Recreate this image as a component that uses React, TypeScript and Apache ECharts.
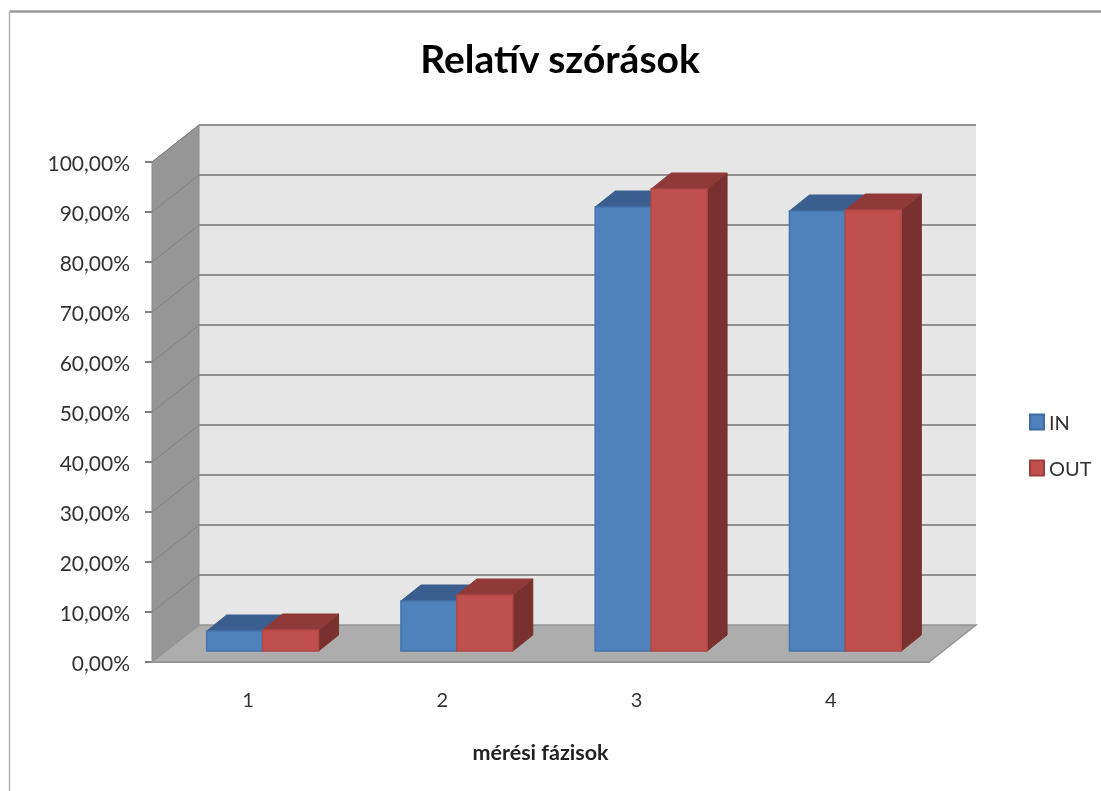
import React, { useEffect, useRef } from "react";
import * as echarts from "echarts";

const categories = ["1", "2", "3", "4"];
const inValues = [4, 10, 88.8, 88];
const outValues = [4.2, 11.2, 92.4, 88.2];
const yTicks = [0, 10, 20, 30, 40, 50, 60, 70, 80, 90, 100];

const DEPTH_X = 47;
const DEPTH_Y = -37;
const BAR_DX = 20;
const BAR_DY = -16;
const BAR_OFFSET_X = 13.5;
const BAR_OFFSET_Y = -11;
const FONT = "Lato, 'Open Sans', sans-serif";

const renderWalls = (params: any) => {
  const c = params.coordSys;
  const l = c.x, r = c.x + c.width, t = c.y, b = c.y + c.height;
  return {
    type: "group",
    children: [
      {
        type: "polygon",
        shape: { points: [[l + DEPTH_X, t + DEPTH_Y], [r + DEPTH_X, t + DEPTH_Y], [r + DEPTH_X, b + DEPTH_Y], [l + DEPTH_X, b + DEPTH_Y]] },
        style: { fill: "#E6E6E6" },
      },
      {
        type: "polygon",
        shape: { points: [[l, t], [l + DEPTH_X, t + DEPTH_Y], [l + DEPTH_X, b + DEPTH_Y], [l, b]] },
        style: { fill: "#969696", stroke: "#8A8A8A", lineWidth: 1 },
      },
      {
        type: "polygon",
        shape: { points: [[l, b], [l + DEPTH_X, b + DEPTH_Y], [r + DEPTH_X, b + DEPTH_Y], [r, b]] },
        style: { fill: "#ADADAD", stroke: "#949494", lineWidth: 1.5 },
      },
    ],
  };
};

const renderGridLine = (params: any, api: any) => {
  const c = params.coordSys;
  const v = api.value(1);
  const y = api.coord([0, v])[1];
  const l = c.x, r = c.x + c.width;
  if (v === 0) return { type: "group", children: [] };
  return {
    type: "group",
    children: [
      {
        type: "line",
        shape: { x1: l, y1: y, x2: l + DEPTH_X, y2: y + DEPTH_Y },
        style: { stroke: "#808080", lineWidth: 1 },
      },
      {
        type: "line",
        shape: { x1: l + DEPTH_X, y1: y + DEPTH_Y, x2: r + DEPTH_X, y2: y + DEPTH_Y },
        style: { stroke: "#8F8F8F", lineWidth: 2 },
      },
    ],
  };
};

const makeBar = (side: -1 | 0, front: string, edge: string, top: string, flank: string) =>
  (_params: any, api: any) => {
    const base = api.coord([api.value(0), 0]);
    const peak = api.coord([api.value(0), api.value(1)]);
    const w = api.size([1, 0])[0] * 0.288;
    const x0 = base[0] + BAR_OFFSET_X + side * w;
    const x1 = x0 + w;
    const y0 = base[1] + BAR_OFFSET_Y;
    const y1 = peak[1] + BAR_OFFSET_Y;
    return {
      type: "group",
      children: [
        {
          type: "polygon",
          shape: { points: [[x1, y0], [x1 + BAR_DX, y0 + BAR_DY], [x1 + BAR_DX, y1 + BAR_DY], [x1, y1]] },
          style: { fill: flank, stroke: flank, lineWidth: 1 },
        },
        {
          type: "polygon",
          shape: { points: [[x0, y1], [x1, y1], [x1 + BAR_DX, y1 + BAR_DY], [x0 + BAR_DX, y1 + BAR_DY]] },
          style: { fill: top, stroke: top, lineWidth: 1 },
        },
        {
          type: "rect",
          shape: { x: x0, y: y1, width: w, height: y0 - y1 },
          style: { fill: front, stroke: edge, lineWidth: 1.5 },
        },
      ],
    };
  };

export default function App() {
  const ref = useRef<HTMLDivElement>(null);
  useEffect(() => {
    const chart = echarts.init(ref.current!, undefined, { renderer: "svg" });
    chart.setOption({
      animation: false,
      backgroundColor: "#FFFFFF",
      textStyle: { fontFamily: FONT },
      title: {
        text: "Relatív szórások",
        left: 555,
        top: 33,
        textAlign: "center",
        textStyle: { fontFamily: FONT, fontSize: 39, fontWeight: "bold", color: "#000000" },
      },
      legend: {
        orient: "vertical",
        left: 1029,
        top: 412,
        padding: 0,
        itemWidth: 14,
        itemHeight: 15,
        itemGap: 26,
        icon: "rect",
        data: ["IN", "OUT"],
        textStyle: { fontFamily: FONT, fontSize: 20, color: "#333333" },
      },
      grid: { left: 152, right: 172, top: 162, bottom: 129 },
      xAxis: {
        type: "category",
        data: categories,
        name: "mérési fázisok",
        nameLocation: "middle",
        nameGap: 79,
        nameTextStyle: { fontFamily: FONT, fontSize: 21.5, fontWeight: "bold", color: "#222222" },
        axisLine: { show: true, lineStyle: { color: "#949494", width: 2 } },
        axisTick: { show: false },
        axisLabel: { fontSize: 20, color: "#333333", margin: 27, padding: [0, 2, 0, 0], fontFamily: FONT },
      },
      yAxis: {
        type: "value",
        min: 0,
        max: 100,
        interval: 10,
        axisLine: { show: false },
        axisTick: { show: true, length: 7, lineStyle: { color: "#808080", width: 2 } },
        splitLine: { show: false },
        axisLabel: {
          fontSize: 21,
          color: "#333333",
          margin: 22,
          fontFamily: FONT,
          formatter: (v: number) => v.toFixed(2).replace(".", ",") + "%",
        },
      },
      series: [
        { name: "walls", type: "custom", silent: true, z: 1, clip: false, renderItem: renderWalls, data: [[0, 0]], encode: { x: 0, y: 1 } },
        { name: "gridlines", type: "custom", silent: true, z: 2, clip: false, renderItem: renderGridLine, data: yTicks.map((v) => [0, v]), encode: { x: 0, y: 1 } },
        {
          name: "IN",
          type: "custom",
          z: 3,
          clip: false,
          renderItem: makeBar(-1, "#4F81BD", "#4574AD", "#3A5F8E", "#2F4F78"),
          itemStyle: { color: "#4F81BD", borderColor: "#3F6CA3", borderWidth: 1 },
          data: inValues.map((v, i) => [i, v]),
          encode: { x: 0, y: 1 },
        },
        {
          name: "OUT",
          type: "custom",
          z: 4,
          clip: false,
          renderItem: makeBar(0, "#C0504D", "#B04845", "#8F3A38", "#7A302E"),
          itemStyle: { color: "#C0504D", borderColor: "#A03C3A", borderWidth: 1 },
          data: outValues.map((v, i) => [i, v]),
          encode: { x: 0, y: 1 },
        },
      ],
      graphic: [
        { type: "line", shape: { x1: 9.5, y1: 11.5, x2: 1101, y2: 11.5 }, style: { stroke: "#989898", lineWidth: 2.5 } },
        { type: "line", shape: { x1: 9.5, y1: 11.5, x2: 9.5, y2: 791 }, style: { stroke: "#B4B4B4", lineWidth: 1.5 } },
      ],
    });
    return () => chart.dispose();
  }, []);
  return <div ref={ref} style={{ position: "absolute", left: 0, top: 0, width: 1101, height: 791, filter: "blur(0.5px)" }} />;
}
